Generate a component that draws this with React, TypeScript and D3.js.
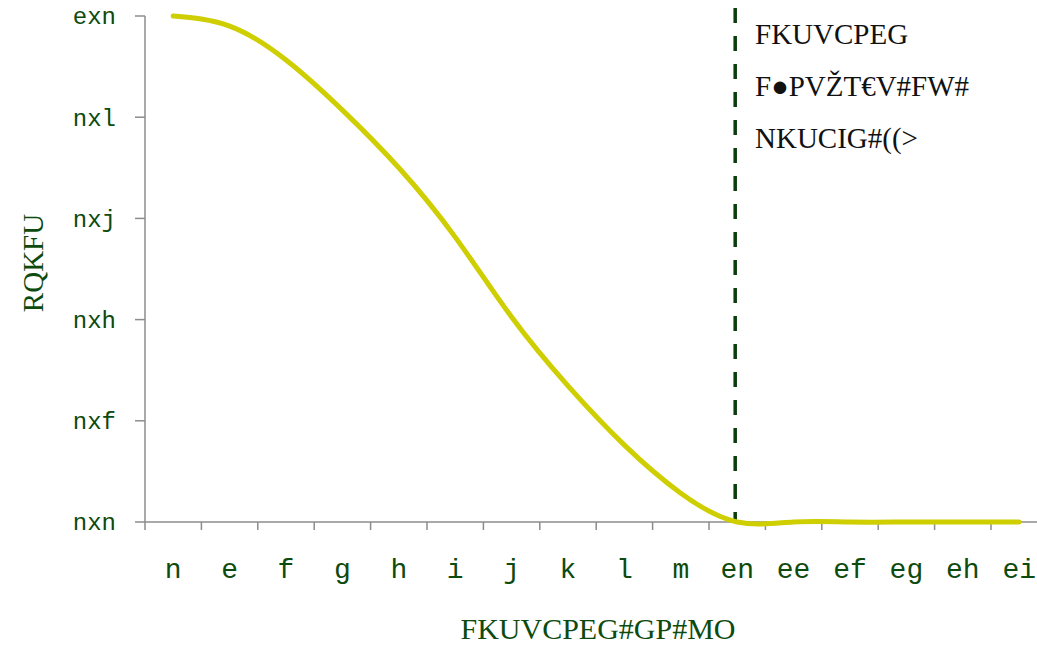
import { scaleBand, scaleLinear, line as d3_line, curveNatural } from "d3";

// category labels (as rendered in the reference) and series values
const categories = ["n", "e", "f", "g", "h", "i", "j", "k", "l", "m", "en", "ee", "ef", "eg", "eh", "ei"];
const scoreValues = [1.0, 0.98, 0.913, 0.814, 0.7, 0.563, 0.405, 0.269, 0.152, 0.057, 0.0, 0.0, 0.0, 0.0, 0.0, 0.0];
const yTickValues = [0, 0.2, 0.4, 0.6, 0.8, 1.0];
const yTickLabels = ["nxn", "nxf", "nxh", "nxj", "nxl", "exn"];
const markerCategory = "en";
const noteLines = ["FKUVCPEG", "F\u25CFPVŽT€V#FW#", "NKUCIG#((>"];
const xTitle = "FKUVCPEG#GP#MO";
const yTitle = "RQKFU";

const W = 1037;
const H = 646;
const margin = { top: 16, bottom: 124, left: 145 };

const green = "#0d4a0d";
const axisGray = "#8c8c8c";

export default function App() {
  const x = scaleBand<string>()
    .domain(categories)
    .range([margin.left, margin.left + categories.length * 56.4])
    .padding(0);
  const y = scaleLinear().domain([0, 1]).range([H - margin.bottom, margin.top]);

  const pts = categories.map((c, i) => ({ c, v: scoreValues[i] }));
  const path = d3_line<{ c: string; v: number }>()
    .x((d) => (x(d.c) ?? 0) + x.bandwidth() / 2)
    .y((d) => y(d.v))
    .curve(curveNatural)(pts);

  const x0 = margin.left;
  const y0 = y(0);
  const mx = (x(markerCategory) ?? 0) + x.bandwidth() / 2;

  return (
    <div style={{ position: "absolute", left: 0, top: 0 }}>
      <svg width={W} height={H} style={{ display: "block", background: "#fff" }}>
        {/* y axis */}
        <line x1={x0} x2={x0} y1={y(1)} y2={y0} stroke={axisGray} strokeWidth={1.5} />
        {yTickValues.map((t, i) => (
          <g key={t}>
            <line x1={x0 - 10} x2={x0} y1={y(t)} y2={y(t)} stroke={axisGray} strokeWidth={1.5} />
            <text
              x={116}
              y={y(t)}
              dy="0.35em"
              textAnchor="end"
              fontFamily="'Liberation Mono', monospace"
              fontSize={24}
              fill={green}
            >
              {yTickLabels[i]}
            </text>
          </g>
        ))}

        {/* x axis */}
        <line x1={x0} x2={W} y1={y0} y2={y0} stroke={axisGray} strokeWidth={1.5} />
        {categories.map((c) => (
          <line
            key={"t" + c}
            x1={x(c) ?? 0}
            x2={x(c) ?? 0}
            y1={y0}
            y2={y0 + 8}
            stroke={axisGray}
            strokeWidth={1.5}
          />
        ))}
        {categories.map((c) => (
          <text
            key={"l" + c}
            x={(x(c) ?? 0) + x.bandwidth() / 2}
            y={578}
            textAnchor="middle"
            fontFamily="'Liberation Mono', monospace"
            fontSize={28}
            fill={green}
          >
            {c}
          </text>
        ))}

        {/* marker line */}
        <line
          x1={mx - 2}
          x2={mx - 2}
          y1={8}
          y2={y0}
          stroke="#0a3d0a"
          strokeWidth={3.5}
          strokeDasharray="15,13"
        />

        {/* series */}
        <path d={path ?? ""} fill="none" stroke="#cece00" strokeWidth={5} strokeLinecap="round" />

        {/* annotation */}
        {noteLines.map((t, i) => (
          <text
            key={i}
            x={755}
            y={44 + i * 52}
            fontFamily="'Liberation Serif', serif"
            fontSize={29}
            fill="#111"
          >
            {t}
          </text>
        ))}

        {/* titles */}
        <text
          x={598}
          y={639}
          textAnchor="middle"
          fontFamily="'Liberation Serif', serif"
          fontSize={30}
          fill={green}
        >
          {xTitle}
        </text>
        <text
          transform={`translate(43, 263) rotate(-90)`}
          textAnchor="middle"
          fontFamily="'Liberation Serif', serif"
          fontSize={29}
          fill={green}
        >
          {yTitle}
        </text>
      </svg>
    </div>
  );
}
